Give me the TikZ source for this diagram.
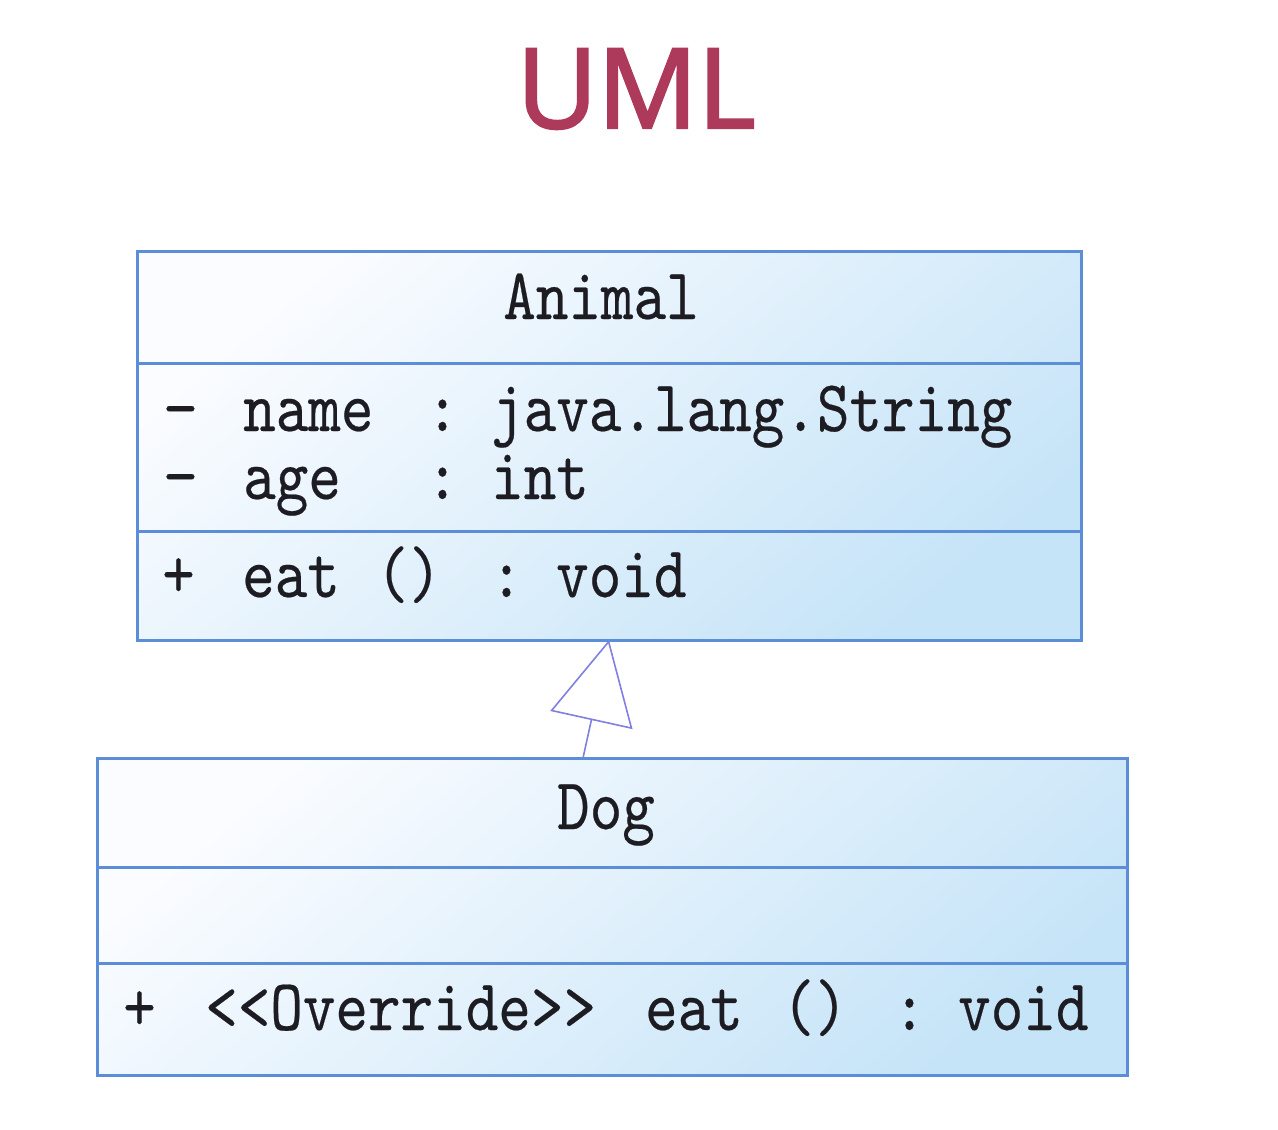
\documentclass[tikz,border=0pt]{standalone}
\usepackage{fontspec}
\usepackage{tikz}
\usetikzlibrary{positioning,arrows.meta}
\newfontfamily\umlfont[FakeStretch=0.85,FakeBold=0.3,Ligatures=TeXOff]{lmmono10-regular.otf}
\newfontfamily\titlefont[FakeBold=2.2]{Open Sans}
\definecolor{border}{HTML}{5B8ED6}
\definecolor{clstop}{HTML}{FAFCFF}
\definecolor{clsbot}{HTML}{C6E4F8}
\definecolor{genc}{HTML}{8080E0}
\definecolor{ink}{HTML}{1C1C22}
\definecolor{brand}{HTML}{AD3A5A}
\newcommand{\cellw}[2]{\makebox[#1pt][l]{#2}}
\tikzset{
  cls/.style={top color=clstop, bottom color=clsbot, shading angle=40, inner sep=0pt, outer sep=0pt},
  part/.style={draw=border, line width=3pt, inner sep=0pt, outer sep=0pt},
  txt/.style={inner sep=0pt, text=ink, font=\umlfont\fontsize{73}{80}\selectfont},
  member/.style={txt, anchor=base west},
  title/.style={inner sep=0pt, anchor=base, text=brand, font=\titlefont\fontsize{111}{120}\selectfont},
  gen/.style={draw=genc, line width=1.6pt, -{Triangle[open, length=82pt, width=84pt]}},
}
\begin{document}
\begin{tikzpicture}[x=1pt, y=-1pt]
    \useasboundingbox[fill=white] (0,0) rectangle (1278,1130);
    % title
    \node[title] (uml) at (636,128) {UML};
    % class: Animal
    \node[cls, minimum width=944, minimum height=389] (animal) at (609,445.5) {};
    \node[part, minimum width=944, minimum height=112, anchor=north] (animalhead) at (animal.north) {};
    \node[part, minimum width=944, minimum height=168, below=0pt of animalhead] (animalattr) {};
    \node[part, minimum width=944, minimum height=109, below=0pt of animalattr] (animalops) {};
    \node[txt, anchor=base] (animalname) at (601,319) {Animal};
    \node[member] (attrname) at (164,431) {\cellw{79}{−}\cellw{183}{name}\cellw{65}{:}java.lang.String};
    \node[member] (attrage)  at (164,499) {\cellw{79}{−}\cellw{183}{age}\cellw{65}{:}int};
    \node[member] (opeat)    at (162,597) {\cellw{80}{+}\cellw{134}{eat}\cellw{114}{()}\cellw{66}{:}void};
    % class: Dog
    \node[cls, minimum width=1030, minimum height=317] (dog) at (612,916.5) {};
    \node[part, minimum width=1030, minimum height=109, anchor=north] (doghead) at (dog.north) {};
    \node[part, minimum width=1030, minimum height=96, below=0pt of doghead] (dogattr) {};
    \node[part, minimum width=1030, minimum height=112, below=0pt of dogattr] (dogops) {};
    \node[txt, anchor=base] (dogname) at (606,829) {Dog};
    \node[member] (dogeat) at (123,1030) {\cellw{82}{+}\cellw{440}{<<Override>>}\cellw{137}{eat}\cellw{111}{()}\cellw{65}{:}void};
    % generalization
    \draw[gen] ([xshift=-29pt]dog.north) -- (animal.south);
\end{tikzpicture}
\end{document}
